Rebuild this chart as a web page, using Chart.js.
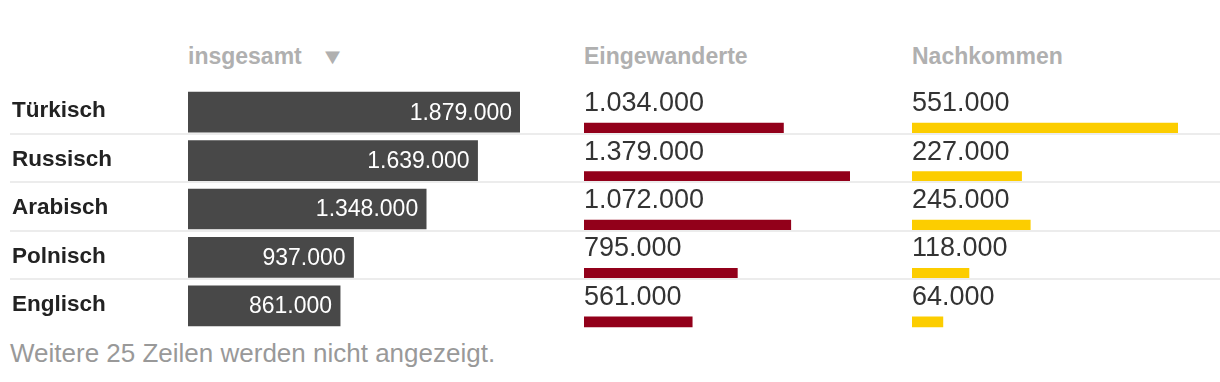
<!DOCTYPE html>
<html>
<head>
<meta charset="utf-8">
<script src="https://cdn.jsdelivr.net/npm/chart.js@4"></script>
<style>
  body { margin: 0; background: #fff; font-family: "Liberation Sans", Arial, sans-serif; }
  #wrap { position: relative; width: 1220px; height: 382px; overflow: hidden; }
  canvas, .abs { position: absolute; }
  .head { top: 43px; font-size: 23px; font-weight: bold; color: #b0b0b0; }
  .rule { left: 10px; width: 1210px; height: 2px; background: #ececec; }
  #foot { left: 10px; top: 338px; font-size: 26px; color: #999; }
  #arrow { left: 320px; top: 46px; font-size: 22px; line-height: 22px; color: #b0b0b0; transform: scaleX(1.15); transform-origin: left; }
</style>
</head>
<body>
<div id="wrap">
  <div class="abs head" style="left:188px">insgesamt</div>
  <div class="abs" id="arrow">&#9660;</div>
  <div class="abs head" style="left:584px">Eingewanderte</div>
  <div class="abs head" style="left:912px">Nachkommen</div>
  <canvas id="total" width="508" height="242" style="left:12px;top:88px"></canvas>
  <canvas id="immig" width="266" height="266" style="left:584px;top:80px"></canvas>
  <canvas id="desc" width="266" height="266" style="left:912px;top:80px"></canvas>
  <div class="abs" id="foot">Weitere 25 Zeilen werden nicht angezeigt.</div>
</div>
<script>
const languages = ['Türkisch', 'Russisch', 'Arabisch', 'Polnisch', 'Englisch'];
const insgesamt = [1879000, 1639000, 1348000, 937000, 861000];
const eingewanderte = [1034000, 1379000, 1072000, 795000, 561000];
const nachkommen = [551000, 227000, 245000, 118000, 64000];

Chart.defaults.font.family = '"Liberation Sans", Arial, sans-serif';
Chart.defaults.animation = false;

function fmt(v) {
    return String(v).replace(/\B(?=(\d{3})+(?!\d))/g, '.');
}

// row separators, one per gap between rows
const wrap = document.getElementById('wrap');
for (let i = 1; i < languages.length; i++) {
    const line = document.createElement('div');
    line.className = 'abs rule';
    line.style.top = (86 + 48.4 * i - 1.5) + 'px';
    wrap.appendChild(line);
}

// language names on the left + values inside the dark bars
const totalLabels = {
    id: 'totalLabels',
    afterDatasetsDraw(chart) {
        const c = chart.ctx;
        const meta = chart.getDatasetMeta(0);
        c.save();
        c.textBaseline = 'middle';
        meta.data.forEach((bar, i) => {
            c.font = 'bold 22.5px "Liberation Sans", Arial, sans-serif';
            c.fillStyle = '#222';
            c.textAlign = 'left';
            c.fillText(chart.data.labels[i], 0, bar.y - 1);
            c.font = '23px "Liberation Sans", Arial, sans-serif';
            c.fillStyle = '#fff';
            c.textAlign = 'right';
            c.fillText(fmt(chart.data.datasets[0].data[i]), bar.x - 8, bar.y + 1);
        });
        c.restore();
    }
};

const aboveLabels = {
    id: 'aboveLabels',
    afterDatasetsDraw(chart) {
        const c = chart.ctx;
        const meta = chart.getDatasetMeta(0);
        c.save();
        c.font = '27px "Liberation Sans", Arial, sans-serif';
        c.fillStyle = '#333';
        c.textAlign = 'left';
        c.textBaseline = 'alphabetic';
        meta.data.forEach((bar, i) => {
            c.fillText(fmt(chart.data.datasets[0].data[i]), bar.base, bar.y - 17);
        });
        c.restore();
    }
};

const total = new Chart(document.getElementById('total'), {
    type: 'bar',
    data: {
        labels: languages,
        datasets: [{
            data: insgesamt,
            backgroundColor: '#484848',
            barThickness: 40
        }]
    },
    options: {
        indexAxis: 'y',
        responsive: false,
        plugins: { legend: { display: false }, tooltip: { enabled: false } },
        layout: { padding: { left: 176, top: 0, right: 0, bottom: 0 } },
        scales: {
            x: { display: false, min: 0, max: Math.max(...insgesamt) },
            y: { display: false }
        }
    },
    plugins: [totalLabels]
});

function thinChart(id, values, colour) {
    return new Chart(document.getElementById(id), {
        type: 'bar',
        data: {
            labels: languages,
            datasets: [{
                data: values,
                backgroundColor: colour,
                barThickness: 10
            }]
        },
        options: {
            indexAxis: 'y',
            responsive: false,
            plugins: { legend: { display: false }, tooltip: { enabled: false } },
            layout: { padding: { top: 24, left: 0, right: 0, bottom: 0 } },
            scales: {
                x: { display: false, min: 0, max: Math.max(...values) },
                y: { display: false }
            }
        },
        plugins: [aboveLabels]
    });
}

const immig = thinChart('immig', eingewanderte, '#92001a');
const desc = thinChart('desc', nachkommen, '#fccd00');
</script>
</body>
</html>
